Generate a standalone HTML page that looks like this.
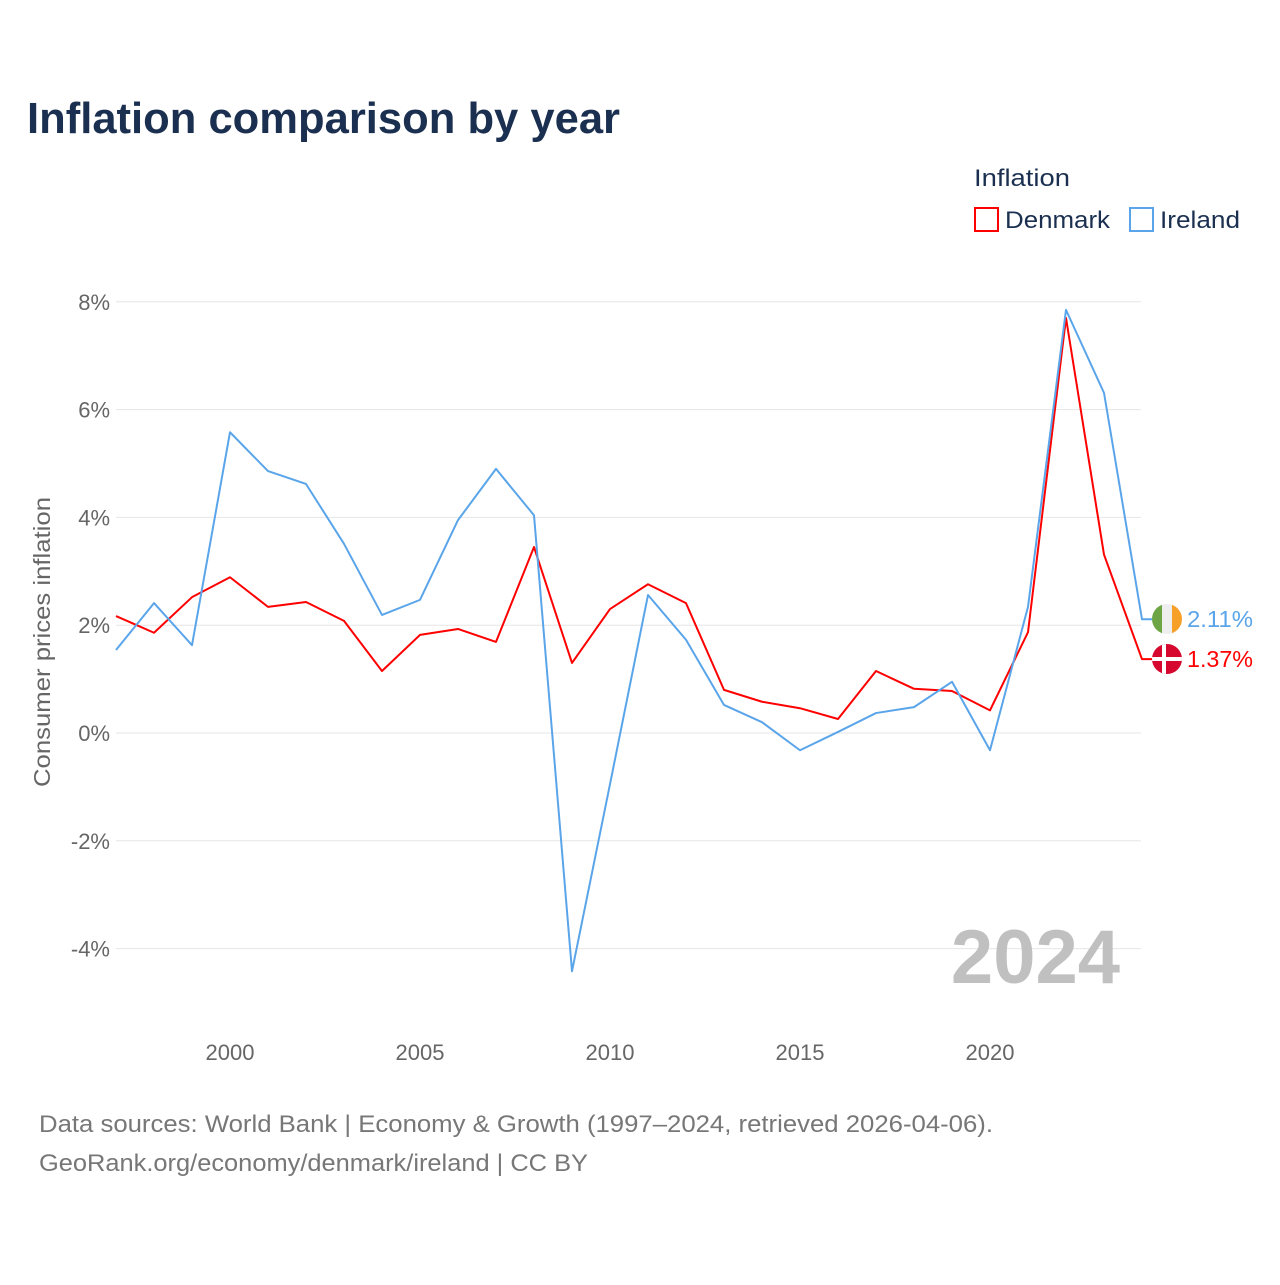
<!DOCTYPE html>
<html><head><meta charset="utf-8"><style>
body{margin:0;background:#fff;font-family:"Liberation Sans",sans-serif}
</style></head><body>
<svg width="1280" height="1280" viewBox="0 0 1280 1280" xmlns="http://www.w3.org/2000/svg" style="font-family:'Liberation Sans',sans-serif">
<text x="27" y="133" font-size="44" font-weight="bold" fill="#1b3050" textLength="593" lengthAdjust="spacingAndGlyphs">Inflation comparison by year</text>
<text x="974" y="186" font-size="24" fill="#1b3050" textLength="96" lengthAdjust="spacingAndGlyphs">Inflation</text>
<g><rect x="975" y="208" width="23" height="23" fill="none" stroke="#ff0000" stroke-width="2"/><text x="1005" y="228" font-size="24" fill="#1b3050" textLength="105" lengthAdjust="spacingAndGlyphs">Denmark</text></g>
<g><rect x="1130" y="208" width="23" height="23" fill="none" stroke="#5aa5ea" stroke-width="2"/><text x="1160" y="228" font-size="24" fill="#1b3050" textLength="80" lengthAdjust="spacingAndGlyphs">Ireland</text></g>
<g id="grid"></g><g id="xt"></g><g id="lines"></g>
<text transform="translate(50,642) rotate(-90)" text-anchor="middle" font-size="23" fill="#666" textLength="290" lengthAdjust="spacingAndGlyphs">Consumer prices inflation</text>
<text x="1120" y="983" text-anchor="end" font-size="76" font-weight="bold" fill="#c0c0c0">2024</text>
<g>
<clipPath id="ci"><circle cx="1167" cy="619" r="15"/></clipPath>
<g clip-path="url(#ci)"><rect x="1152" y="604" width="10" height="30" fill="#6ea544"/><rect x="1162" y="604" width="10" height="30" fill="#eee"/><rect x="1172" y="604" width="10" height="30" fill="#f7a028"/></g>
<text x="1187" y="627" font-size="23" fill="#5aa5ea" textLength="66" lengthAdjust="spacingAndGlyphs">2.11%</text></g>
<g>
<clipPath id="cd"><circle cx="1167" cy="659" r="15"/></clipPath>
<g clip-path="url(#cd)"><rect x="1152" y="644" width="30" height="30" fill="#d6082f"/><rect x="1162" y="644" width="4" height="30" fill="#fff"/><rect x="1152" y="657" width="30" height="4" fill="#fff"/></g>
<text x="1187" y="667" font-size="23" fill="#ff0000" textLength="66" lengthAdjust="spacingAndGlyphs">1.37%</text></g>
<text x="39" y="1132" font-size="24" fill="#777" textLength="954" lengthAdjust="spacingAndGlyphs">Data sources: World Bank | Economy &amp; Growth (1997–2024, retrieved 2026-04-06).</text>
<text x="39" y="1171" font-size="24" fill="#777" textLength="549" lengthAdjust="spacingAndGlyphs">GeoRank.org/economy/denmark/ireland | CC BY</text>
</svg>
<script>
const years=[1997,1998,1999,2000,2001,2002,2003,2004,2005,2006,2007,2008,2009,2010,2011,2012,2013,2014,2015,2016,2017,2018,2019,2020,2021,2022,2023,2024];
const denmark=[2.17,1.86,2.52,2.89,2.34,2.43,2.08,1.15,1.82,1.93,1.69,3.45,1.30,2.30,2.76,2.41,0.80,0.58,0.46,0.26,1.15,0.82,0.78,0.42,1.87,7.70,3.31,1.37];
const ireland=[1.54,2.41,1.63,5.58,4.86,4.62,3.51,2.19,2.47,3.95,4.90,4.04,-4.42,-0.95,2.56,1.73,0.52,0.20,-0.32,0.02,0.37,0.48,0.95,-0.32,2.34,7.85,6.31,2.11];
const yTicks=[-4,-2,0,2,4,6,8];
const xTicks=[2000,2005,2010,2015,2020];
const NS="http://www.w3.org/2000/svg";
const X=v=>116+(v-1997)*38, Y=v=>733-v*53.9;
function mk(t,a,p){const e=document.createElementNS(NS,t);for(const k in a)e.setAttribute(k,a[k]);p.appendChild(e);return e;}
const g=document.getElementById('grid');
yTicks.forEach(t=>{
const l=mk('line',{x1:116,x2:1141,y1:Y(t),y2:Y(t),stroke:'#e6e6e6','stroke-width':1},g);


const tx=mk('text',{x:110,y:Y(t)+8,'text-anchor':'end','font-size':22,fill:'#666'},g);
tx.textContent=t+'%';


});
const xt=document.getElementById('xt');
xTicks.forEach(t=>{
const tx=mk('text',{x:X(t),y:1060,'text-anchor':'middle','font-size':22,fill:'#666'},xt);
tx.textContent=t;


});
const lg=document.getElementById('lines');
[[denmark,'#ff0000','denmark-line'],[ireland,'#5aa5ea','ireland-line']].forEach(([d,c,n])=>{
let pts=d.map((v,i)=>X(years[i])+','+Y(v));
pts.push('1152,'+Y(d[d.length-1]));
const p=mk('polyline',{points:pts.join(' '),fill:'none',stroke:c,'stroke-width':2,'stroke-linejoin':'round'},lg);


});
</script>
</body></html>
